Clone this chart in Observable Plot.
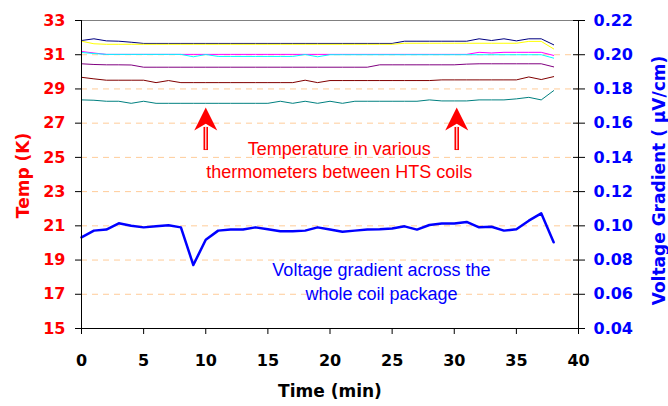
<!DOCTYPE html>
<html><head><meta charset="utf-8">
<script src="https://cdn.jsdelivr.net/npm/d3@7"></script>
<script src="https://cdn.jsdelivr.net/npm/@observablehq/plot@0.6"></script>
<style>body{margin:0;background:#fff}#chart svg{display:block}</style>
</head><body><div id="chart"></div>
<script>
const time = [0,1,2,3,4,5,6,7,8,9,10,11,12,13,14,15,16,17,18,19,20,21,22,23,24,25,26,27,28,29,30,31,32,33,34,35,36,37,38];
const timeTicks = [0,5,10,15,20,25,30,35,40];
const tempTicks = [15,17,19,21,23,25,27,29,31,33];
const gridTemps = [17,19,21,23,25,27,29,31];
const voltTickLabels = ["0.04","0.06","0.08","0.10","0.12","0.14","0.16","0.18","0.20","0.22"];
const seriesNames = ["T1","T2","T3","T4","T5","T6","T7"];

const tempT1 = [31.83,31.93,31.81,31.79,31.73,
  31.66,31.66,31.66,31.66,31.66,31.66,31.66,31.66,31.66,31.66,31.66,31.66,31.66,31.66,31.66,31.66,31.66,31.66,31.66,31.66,31.66,
  31.79,31.79,31.79,31.79,31.79,31.79,
  31.93,31.83,31.93,31.81,31.93,31.93,31.58];
const tempT2 = [31.19,31.10,
  31.02,31.02,31.02,31.02,31.02,31.02,31.02,31.02,31.02,31.02,31.02,31.02,31.02,31.02,31.02,31.02,31.02,31.02,31.02,31.02,31.02,31.02,31.02,31.02,31.02,31.02,31.02,31.02,31.02,31.02,
  31.14,31.10,31.14,31.14,31.14,31.14,30.96];
const tempT3 = [31.79,31.64,
  31.61,31.61,31.61,31.61,31.61,31.61,31.61,31.61,31.61,31.61,31.61,31.61,31.61,31.61,31.61,31.61,31.61,31.61,31.61,31.61,31.61,31.61,31.61,31.61,
  31.67,31.67,31.67,31.67,31.67,31.67,31.67,31.67,31.67,31.67,
  31.78,31.78,31.34];
const tempT4 = [31.13,31.07,
  31.02,31.02,31.02,31.02,31.02,31.02,31.02,
  30.88,31.01,
  30.90,30.90,30.90,30.90,30.90,30.90,30.90,
  31.01,30.88,
  31.00,31.00,31.00,31.00,31.00,31.00,31.00,31.00,31.00,31.00,31.00,31.00,31.00,31.00,31.00,31.00,31.00,31.00,
  30.80];
const tempT5 = [30.47,30.43,30.41,30.41,30.40,
  30.27,30.27,30.27,30.27,30.27,30.27,30.27,30.27,30.27,30.27,30.27,30.27,30.27,30.27,30.27,30.27,30.27,30.27,30.27,
  30.41,30.41,30.41,30.41,30.41,30.41,30.41,
  30.45,30.47,30.47,30.47,30.47,30.47,30.47,30.29];
const tempT6 = [29.68,29.59,29.51,29.51,29.51,29.51,29.37,29.49,
  29.37,29.37,29.37,29.37,29.37,29.37,29.37,29.37,29.37,29.37,
  29.51,29.37,
  29.49,29.49,29.49,29.49,29.49,29.49,29.49,29.49,29.49,
  29.53,29.53,29.53,29.53,29.53,29.53,29.53,
  29.70,29.55,29.72];
const tempT7 = [28.36,28.34,28.28,28.28,28.16,28.28,
  28.16,28.16,28.16,28.16,28.16,28.16,28.16,28.16,28.16,28.16,
  28.28,28.16,28.28,28.16,28.28,28.16,
  28.28,28.28,28.28,28.28,28.28,28.28,
  28.36,28.30,28.30,28.30,28.36,28.36,28.36,28.42,28.51,28.36,28.90];
const voltage = [0.0933,0.0972,0.0978,0.1015,0.1001,0.0991,0.0997,0.1003,0.0991,0.0771,
  0.0919,0.0972,0.0978,0.0978,0.0991,0.0980,0.0968,0.0968,0.0972,0.0991,
  0.0978,0.0966,0.0972,0.0978,0.0980,0.0984,0.0997,0.0978,0.1005,0.1013,
  0.1013,0.1023,0.0991,0.0995,0.0972,0.0980,0.1030,0.1073,0.0904];
const arrowTimes = [10, 30.2];

const tempSeries = [tempT1, tempT2, tempT3, tempT4, tempT5, tempT6, tempT7];
const seriesColors = ["#000080","#FF00FF","#FFFF00","#00FFFF","#800080","#800000","#008080"];
const rows = [];
tempSeries.forEach((vals, s) => vals.forEach((v, i) => rows.push({t: time[i], temp: v, series: seriesNames[s]})));
// right axis 0.04..0.22 maps onto left axis 15..33
const vToT = v => 15 + (v - 0.04) * 100;
const vrows = voltage.map((v, i) => ({t: time[i], temp: vToT(v)}));

const arrowHead = {draw(ctx, size) {
  const r = Math.sqrt(size / Math.PI);
  ctx.moveTo(0, -r); ctx.lineTo(r, r); ctx.lineTo(0, 0.4 * r); ctx.lineTo(-r, r); ctx.closePath();
}};

const tickFont = {fontFamily: "DejaVu Sans", fontSize: 16, fontWeight: "bold"};

const chart = Plot.plot({
  width: 668, height: 406,
  marginLeft: 81, marginRight: 90, marginTop: 20, marginBottom: 78,
  style: {background: "#fff", overflow: "visible"},
  x: {domain: [0, 40], axis: null},
  y: {domain: [15, 33], axis: null},
  color: {domain: seriesNames, range: seriesColors},
  marks: [
    Plot.ruleY(gridTemps, {stroke: "#FFCC99", strokeDasharray: "6,5", strokeWidth: 1}),
    Plot.ruleY([33], {stroke: "#808080"}),
    Plot.line(rows, {x: "t", y: "temp", z: "series", stroke: "series", strokeWidth: 1}),
    Plot.line(vrows, {x: "t", y: "temp", stroke: "#0000FF", strokeWidth: 2.5}),
    // axes lines
    Plot.ruleY([15], {stroke: "black"}),
    Plot.ruleX([0, 40], {stroke: "black"}),
    // left axis
    Plot.axisY({anchor: "left", ticks: tempTicks, tickSize: 6, tickPadding: 10, stroke: "black", fill: "#FF0000", label: null, ...tickFont}),
    // right axis: ticks crossing the axis line
    Plot.axisY({anchor: "right", ticks: tempTicks, tickSize: 12, dx: -6, tickFormat: () => "", stroke: "black", label: null}),
    Plot.axisY({anchor: "right", ticks: tempTicks, tickSize: 0, tickPadding: 15, fill: "#0000FF", label: null,
      tickFormat: d => voltTickLabels[tempTicks.indexOf(d)], ...tickFont}),
    // bottom axis
    Plot.axisX({anchor: "bottom", ticks: timeTicks, tickSize: 6, tickPadding: 20, stroke: "black", fill: "black", label: null, ...tickFont}),
    // axis titles
    Plot.text(["Time (min)"], {frameAnchor: "bottom", dy: 68, textAnchor: "middle", fill: "black", fontFamily: "DejaVu Sans", fontSize: 17, fontWeight: "bold"}),
    Plot.text(["Temp (K)"], {frameAnchor: "left", dx: -58, dy: 1, rotate: -90, textAnchor: "middle", fill: "#FF0000", fontFamily: "DejaVu Sans", fontSize: 17, fontWeight: "bold"}),
    Plot.text(["Voltage Gradient ( µV/cm)"], {frameAnchor: "right", dx: 81, dy: 6, rotate: -90, textAnchor: "middle", fill: "#0000FF", fontFamily: "DejaVu Sans", fontSize: 17, fontWeight: "bold"}),
    // annotations
    Plot.ruleX(arrowTimes, {x: d => d, y1: 25.4, y2: 26.75, stroke: "#FF0000", strokeWidth: 4.5}),
    Plot.ruleX(arrowTimes, {x: d => d, y1: 25.45, y2: 26.75, stroke: "#FFC8C8", strokeWidth: 1.5}),
    Plot.dot(arrowTimes, {x: d => d, y: () => 27.24, r: 11.5, symbol: arrowHead, fill: "#FF0000", stroke: "none"}),
    Plot.text(["Temperature in various\nthermometers between HTS coils"], {x: () => 20.75, y: () => 24.91, fill: "#FF0000",
      fontFamily: "Liberation Sans", fontSize: 18, lineHeight: 1.3, textAnchor: "middle"}),
    Plot.text(["Voltage gradient across the\nwhole coil package"], {x: () => 24.14, y: () => 17.80, fill: "#0000FF",
      fontFamily: "Liberation Sans", fontSize: 18, lineHeight: 1.3, textAnchor: "middle"})
  ]
});
document.getElementById("chart").appendChild(chart);
</script>
</body></html>
